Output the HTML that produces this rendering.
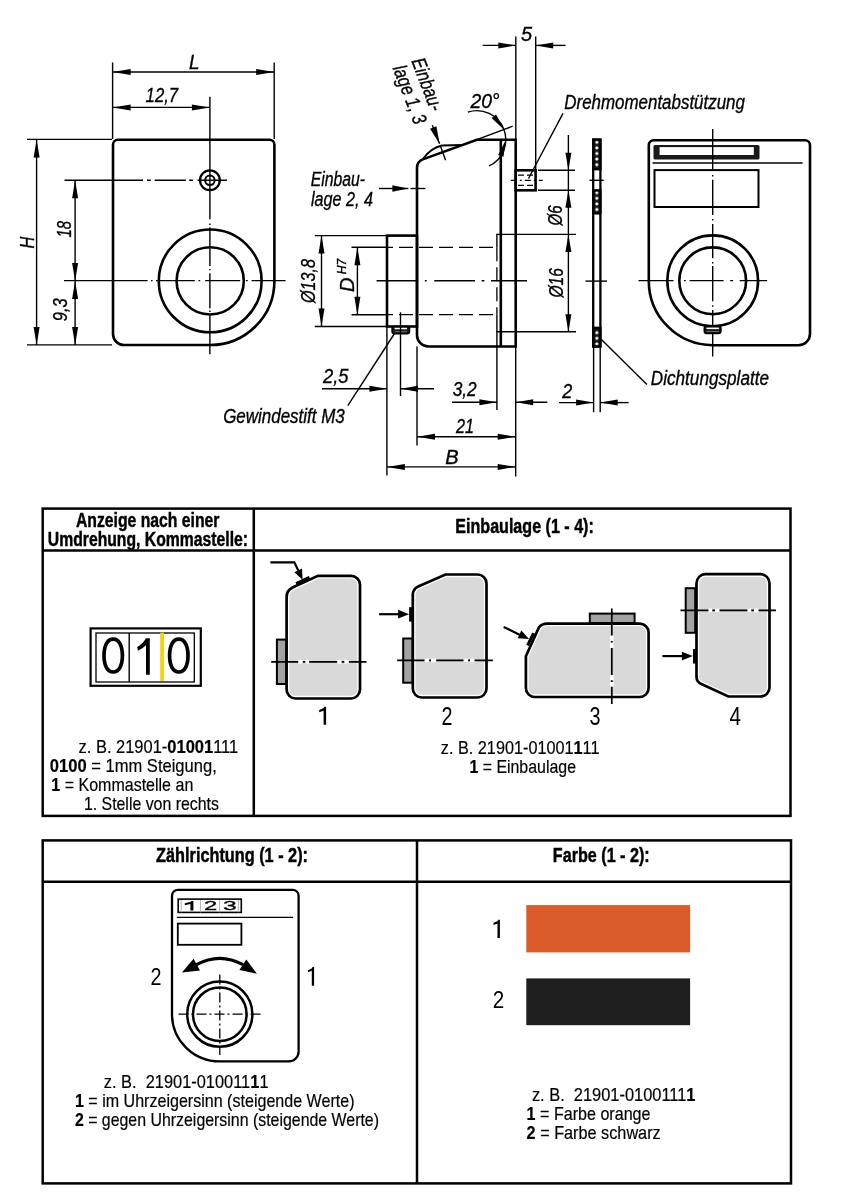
<!DOCTYPE html>
<html><head><meta charset="utf-8"><style>
html,body{margin:0;padding:0;background:#fff;}
svg{display:block;font-family:"Liberation Sans",sans-serif;will-change:transform;}
.k{fill:none;stroke:#000;stroke-width:2.6;}
.k2{fill:none;stroke:#000;stroke-width:2;}
.k3{stroke:#000;stroke-width:2.8;}
.t{stroke:#000;stroke-width:1.4;fill:none;}
.t15{stroke:#000;stroke-width:1.4;fill:none;}
.t2{stroke:#000;stroke-width:2.2;fill:none;}
.c{stroke:#000;stroke-width:1.3;stroke-dasharray:36 4 2 4;}
.c2{stroke:#000;stroke-width:1.3;stroke-dasharray:6 3 2 3;}
.c3{stroke:#000;stroke-width:1.6;stroke-dasharray:26 4 2 4;}
.c4{stroke:#000;stroke-width:1.3;stroke-dasharray:10 3 2 3;}
.h{stroke:#000;stroke-width:1.3;stroke-dasharray:14 6;}
.h2{stroke:#000;stroke-width:1.3;stroke-dasharray:6 3;}
.a{fill:#000;stroke:none;}
.tb{fill:none;stroke:#000;stroke-width:2.5;}
.i{stroke:#000;stroke-width:0.35;}
.b{stroke:#000;stroke-width:0.45;}
.r{stroke:#000;stroke-width:0.2;}
text{-webkit-font-smoothing:antialiased;}
</style></head><body>
<svg width="846" height="1200" viewBox="0 0 846 1200">
<defs>
<pattern id="hatch" width="5.6" height="5.6" patternUnits="userSpaceOnUse" x="594" y="139.5">
<rect width="5.6" height="5.6" fill="#1a1a1a"/><path d="M2.8,0.9 L4.7,2.8 L2.8,4.7 L0.9,2.8 Z" fill="#fff"/>
</pattern>
</defs>
<path d="M113.0,144.8 A5,5 0 0 1 118.0,139.8 L269.4,139.8 A5,5 0 0 1 274.4,144.8 L274.4,280.9 A64.2,64.2 0 0 1 210.2,345.0 L124.0,345.0 A11,11 0 0 1 113.0,334.0 Z" class="k" />
<circle cx="210.2" cy="280.9" r="51.4" class="k"/>
<circle cx="210.2" cy="280.9" r="33.6" class="k"/>
<circle cx="209.9" cy="180.3" r="9.9" fill="none" stroke="#000" stroke-width="2.3"/>
<circle cx="209.9" cy="180.3" r="4.8" fill="none" stroke="#000" stroke-width="2"/>
<path d="M209.9,96.7 V219.3 M209.9,223.6 V225.1 M209.9,227.3 V266 M209.9,268.9 V270.3 M209.9,273.2 V308.2 M209.9,310.6 V312 M209.9,315.5 V354.2" stroke="#000" stroke-width="1.4" fill="none"/>
<path d="M64.5,180.2 H143 M147,180.2 H150.8 M154.7,180.2 H185.9 M189.2,180.2 H193.1 M197.6,180.2 H226.9" stroke="#000" stroke-width="1.4" fill="none"/>
<path d="M64,280.6 H147.6 M151,280.6 H152.6 M156,280.6 H194.8 M198.6,280.6 H200.2 M205.2,280.6 H240.2 M245.9,280.6 H247.7 M251.6,280.6 H285.6" stroke="#000" stroke-width="1.4" fill="none"/>
<line x1="112.6" y1="62.5" x2="112.6" y2="139" class="t" />
<line x1="274.2" y1="62.5" x2="274.2" y2="139" class="t" />
<line x1="112.6" y1="72" x2="274.2" y2="72" class="t" />
<polygon points="112.6,72 130.6,69 130.6,75" class="a"/>
<polygon points="274.2,72 256.2,75 256.2,69" class="a"/>
<line x1="112.6" y1="107.4" x2="209.9" y2="107.4" class="t" />
<polygon points="112.6,107.4 130.6,104.4 130.6,110.4" class="a"/>
<polygon points="209.9,107.4 191.9,110.4 191.9,104.4" class="a"/>
<line x1="27" y1="139.4" x2="112" y2="139.4" class="t" />
<line x1="27" y1="344.9" x2="112" y2="344.9" class="t" />
<line x1="36.6" y1="139.4" x2="36.6" y2="344.9" class="t" />
<polygon points="36.6,139.4 39.6,157.4 33.6,157.4" class="a"/>
<polygon points="36.6,344.9 33.6,326.9 39.6,326.9" class="a"/>
<line x1="75.1" y1="180.2" x2="75.1" y2="280.9" class="t" />
<polygon points="75.1,180.2 78.1,198.2 72.1,198.2" class="a"/>
<polygon points="75.1,280.9 72.1,262.9 78.1,262.9" class="a"/>
<line x1="75.1" y1="280.9" x2="75.1" y2="344.9" class="t" />
<polygon points="75.1,280.9 78.1,298.9 72.1,298.9" class="a"/>
<polygon points="75.1,344.9 72.1,326.9 78.1,326.9" class="a"/>
<text class="i" x="194.3" y="68.8" text-anchor="middle" style="font-size:20px;font-style:italic;font-weight:normal" fill="#000" textLength="10.5" lengthAdjust="spacingAndGlyphs">L</text>
<text class="i" x="145.6" y="102.4" text-anchor="start" style="font-size:20px;font-style:italic;font-weight:normal" fill="#000" textLength="32.6" lengthAdjust="spacingAndGlyphs">12,7</text>
<text class="i" transform="translate(34,242.6) rotate(-90)" x="0" y="0" text-anchor="middle" style="font-size:20px;font-style:italic;font-weight:normal" fill="#000" textLength="11.8" lengthAdjust="spacingAndGlyphs">H</text>
<text class="i" transform="translate(71,229.3) rotate(-90)" x="0" y="0" text-anchor="middle" style="font-size:20px;font-style:italic;font-weight:normal" fill="#000" textLength="16.5" lengthAdjust="spacingAndGlyphs">18</text>
<text class="i" transform="translate(67,309.8) rotate(-90)" x="0" y="0" text-anchor="middle" style="font-size:20px;font-style:italic;font-weight:normal" fill="#000" textLength="23" lengthAdjust="spacingAndGlyphs">9,3</text>
<path d="M417.0,335.0 L417.0,168 Q417.0,161.5 422.8,159.4 L476.8,139.7 L515.7,139.7 L515.7,346.5 L428.5,346.5 A11.5,11.5 0 0 1 417.0,335.0 Z" class="k" />
<line x1="500.8" y1="139.7" x2="500.8" y2="346.5" class="k" />
<line x1="496.9" y1="233.8" x2="496.9" y2="247.3" class="t" />
<line x1="496.9" y1="247.3" x2="496.9" y2="314.7" class="h" />
<line x1="496.9" y1="314.7" x2="496.9" y2="410" class="t" />
<rect x="387" y="235.6" width="30" height="90.9" class="k"/>
<rect x="392.1" y="326.5" width="17.4" height="7.2" rx="2.5" fill="#1a1a1a" stroke="#000" stroke-width="1.6"/>
<rect x="394.6" y="327.8" width="12.4" height="1.5" fill="#fff"/>
<rect x="394.6" y="331.2" width="12.4" height="0.9" fill="#777"/>
<line x1="351.5" y1="247.3" x2="387" y2="247.3" class="t" />
<line x1="387" y1="247.3" x2="496.9" y2="247.3" class="h"  stroke-dasharray="14.5 6" stroke-dashoffset="8"/>
<line x1="351.5" y1="314.7" x2="387" y2="314.7" class="t" />
<line x1="387" y1="314.7" x2="496.9" y2="314.7" class="h"  stroke-dasharray="14.5 6" stroke-dashoffset="8"/>
<path d="M376.6,280.8 H418.2 M424.8,280.8 H426.7 M434.3,280.8 H475 M481.6,280.8 H484.4 M491,280.8 H527" stroke="#000" stroke-width="1.4" fill="none"/>
<line x1="585.5" y1="281.1" x2="607" y2="281.1" class="t" />
<line x1="496.9" y1="234.4" x2="576" y2="234.4" class="t" />
<line x1="496.9" y1="331.8" x2="576" y2="331.8" class="t" />
<rect x="515.7" y="170.3" width="19.9" height="20" class="k"/>
<line x1="518" y1="175.2" x2="534" y2="175.2" class="h2" />
<line x1="518" y1="185.3" x2="534" y2="185.3" class="h2" />
<line x1="510.8" y1="180.3" x2="542.7" y2="180.3" class="c2" />
<rect x="593.2" y="139.6" width="7.2" height="206.9" fill="none" stroke="#000" stroke-width="2.3"/>
<rect x="593.2" y="139.6" width="7.2" height="29.599999999999994" fill="url(#hatch)" stroke="#000" stroke-width="2.3"/>
<rect x="593.2" y="190.3" width="7.2" height="23.099999999999994" fill="url(#hatch)" stroke="#000" stroke-width="2.3"/>
<rect x="593.2" y="327.8" width="7.2" height="18.69999999999999" fill="url(#hatch)" stroke="#000" stroke-width="2.3"/>
<line x1="589.5" y1="180.3" x2="603.7" y2="180.3" class="t" />
<line x1="593.6" y1="346.6" x2="593.6" y2="412.3" class="t" />
<line x1="600.2" y1="346.6" x2="600.2" y2="412.3" class="t" />
<line x1="476.8" y1="139.7" x2="512.6" y2="126.2" class="t" />
<path d="M467.84,112.12 A29,29 0 0 1 489.06,165.98" class="t" fill="none"/>
<polygon points="504.02,129.69 491.61,117.93 496.08,114.55" class="a"/>
<polygon points="505.8,139.7 503.52,156.74 498.16,155.1" class="a"/>
<path d="M423.2,158.8 Q431,148 442,145.6 L462,145.1" class="k2"  fill="none"/>
<line x1="440.2" y1="145.3" x2="445.6" y2="160.3" class="t" />
<line x1="432.3" y1="125.2" x2="439.6" y2="143.8" class="t" />
<polygon points="439.6,143.8 430.04,128.75 436.37,126.27" class="a"/>
<line x1="379" y1="188.5" x2="408.4" y2="188.5" class="t" />
<polygon points="408.4,188.5 392.4,191.7 392.4,185.3" class="a"/>
<line x1="410.4" y1="188.5" x2="425.4" y2="188.5" class="t" />
<line x1="515.8" y1="36.5" x2="515.8" y2="139.7" class="t" />
<line x1="535.7" y1="36.5" x2="535.7" y2="170.3" class="t" />
<line x1="482.7" y1="45.4" x2="515.8" y2="45.4" class="t" />
<polygon points="515.8,45.4 498.3,48.4 498.3,42.4" class="a"/>
<line x1="535.7" y1="45.4" x2="565.5" y2="45.4" class="t" />
<polygon points="535.7,45.4 553.2,42.4 553.2,48.4" class="a"/>
<text class="i" x="526.5" y="40.8" text-anchor="middle" style="font-size:20px;font-style:italic;font-weight:normal" fill="#000">5</text>
<line x1="528.5" y1="178.5" x2="563" y2="113.4" class="t" />
<text class="i" x="564.3" y="109.4" text-anchor="start" style="font-size:20px;font-style:italic;font-weight:normal" fill="#000" textLength="180.6" lengthAdjust="spacingAndGlyphs">Drehmomentabstützung</text>
<line x1="538" y1="170.3" x2="575" y2="170.3" class="t" />
<line x1="538" y1="190.3" x2="575" y2="190.3" class="t" />
<line x1="568.4" y1="135" x2="568.4" y2="331.8" class="t" />
<polygon points="568.4,170.3 565.4,152.8 571.4,152.8" class="a"/>
<polygon points="568.4,190.3 571.4,207.8 565.4,207.8" class="a"/>
<polygon points="568.4,234.4 571.4,251.9 565.4,251.9" class="a"/>
<polygon points="568.4,331.8 565.4,314.3 571.4,314.3" class="a"/>
<text class="i" transform="translate(561.5,215.5) rotate(-90)" x="0" y="0" text-anchor="middle" style="font-size:20px;font-style:italic;font-weight:normal" fill="#000" textLength="20" lengthAdjust="spacingAndGlyphs">Ø6</text>
<text class="i" transform="translate(562.5,282.8) rotate(-90)" x="0" y="0" text-anchor="middle" style="font-size:20px;font-style:italic;font-weight:normal" fill="#000" textLength="29.5" lengthAdjust="spacingAndGlyphs">Ø16</text>
<line x1="314.8" y1="235.6" x2="386" y2="235.6" class="t" />
<line x1="314.8" y1="326.5" x2="386" y2="326.5" class="t" />
<line x1="321.5" y1="235.6" x2="321.5" y2="326.5" class="t" />
<polygon points="321.5,235.6 324.5,253.6 318.5,253.6" class="a"/>
<polygon points="321.5,326.5 318.5,308.5 324.5,308.5" class="a"/>
<text class="i" transform="translate(315,281) rotate(-90)" x="0" y="0" text-anchor="middle" style="font-size:20px;font-style:italic;font-weight:normal" fill="#000" textLength="44" lengthAdjust="spacingAndGlyphs">Ø13,8</text>
<line x1="357.4" y1="247.3" x2="357.4" y2="314.7" class="t" />
<polygon points="357.4,247.3 360.4,265.3 354.4,265.3" class="a"/>
<polygon points="357.4,314.7 354.4,296.7 360.4,296.7" class="a"/>
<text class="i" transform="translate(353.5,275.5) rotate(-90)" text-anchor="middle" style="font-size:20px;font-style:italic">D<tspan style="font-size:12px" dy="-8"> H7</tspan></text>
<line x1="386.9" y1="326.5" x2="386.9" y2="475.4" class="t" />
<line x1="400.5" y1="312.3" x2="400.5" y2="396" class="t" />
<line x1="322" y1="388.8" x2="386.9" y2="388.8" class="t" />
<polygon points="386.9,388.8 369.4,391.8 369.4,385.8" class="a"/>
<line x1="400.5" y1="388.8" x2="434" y2="388.8" class="t" />
<polygon points="400.5,388.8 418,385.8 418,391.8" class="a"/>
<text class="i" x="323" y="383.2" text-anchor="start" style="font-size:20px;font-style:italic;font-weight:normal" fill="#000" textLength="25.5" lengthAdjust="spacingAndGlyphs">2,5</text>
<line x1="394.5" y1="333.5" x2="347.8" y2="405.6" class="t" />
<text class="i" x="223.2" y="423.4" text-anchor="start" style="font-size:20px;font-style:italic;font-weight:normal" fill="#000" textLength="121.5" lengthAdjust="spacingAndGlyphs">Gewindestift M3</text>
<line x1="417" y1="346.5" x2="417" y2="445.6" class="t" />
<line x1="515.7" y1="346.5" x2="515.7" y2="476.6" class="t" />
<line x1="452" y1="402.3" x2="496.9" y2="402.3" class="t" />
<polygon points="496.9,402.3 479.4,405.3 479.4,399.3" class="a"/>
<line x1="515.7" y1="402.3" x2="547.3" y2="402.3" class="t" />
<polygon points="515.7,402.3 533.2,399.3 533.2,405.3" class="a"/>
<text class="i" x="452.7" y="396.2" text-anchor="start" style="font-size:20px;font-style:italic;font-weight:normal" fill="#000" textLength="24" lengthAdjust="spacingAndGlyphs">3,2</text>
<line x1="417" y1="436.8" x2="515.7" y2="436.8" class="t" />
<polygon points="417,436.8 435,433.8 435,439.8" class="a"/>
<polygon points="515.7,436.8 497.7,439.8 497.7,433.8" class="a"/>
<text class="i" x="465" y="432.5" text-anchor="middle" style="font-size:20px;font-style:italic;font-weight:normal" fill="#000" textLength="18" lengthAdjust="spacingAndGlyphs">21</text>
<line x1="386.9" y1="466.9" x2="515.7" y2="466.9" class="t" />
<polygon points="386.9,466.9 404.9,463.9 404.9,469.9" class="a"/>
<polygon points="515.7,466.9 497.7,469.9 497.7,463.9" class="a"/>
<text class="i" x="452" y="464.2" text-anchor="middle" style="font-size:20px;font-style:italic;font-weight:normal" fill="#000">B</text>
<line x1="559" y1="402.6" x2="593.6" y2="402.6" class="t" />
<polygon points="593.6,402.6 576.1,405.6 576.1,399.6" class="a"/>
<line x1="600.2" y1="402.6" x2="628.6" y2="402.6" class="t" />
<polygon points="600.2,402.6 617.7,399.6 617.7,405.6" class="a"/>
<text class="i" x="562.2" y="398.1" text-anchor="start" style="font-size:20px;font-style:italic;font-weight:normal" fill="#000" textLength="10" lengthAdjust="spacingAndGlyphs">2</text>
<line x1="601.4" y1="339.6" x2="646.9" y2="384.5" class="t" />
<text class="i" x="650.8" y="384.8" text-anchor="start" style="font-size:20px;font-style:italic;font-weight:normal" fill="#000" textLength="118.2" lengthAdjust="spacingAndGlyphs">Dichtungsplatte</text>
<text class="i" x="310.7" y="185.5" text-anchor="start" style="font-size:20px;font-style:italic;font-weight:normal" fill="#000" textLength="54.3" lengthAdjust="spacingAndGlyphs">Einbau-</text>
<text class="i" x="311" y="205.6" text-anchor="start" style="font-size:20px;font-style:italic;font-weight:normal" fill="#000" textLength="62" lengthAdjust="spacingAndGlyphs">lage 2, 4</text>
<g class="i" transform="translate(411.2,61) rotate(69)"><text x="0" y="0" style="font-size:20px;font-style:italic" textLength="55" lengthAdjust="spacingAndGlyphs">Einbau-</text><text x="0" y="20" style="font-size:20px;font-style:italic" textLength="61.5" lengthAdjust="spacingAndGlyphs">lage 1, 3</text></g>
<text class="i" x="470.4" y="108.4" text-anchor="start" style="font-size:20px;font-style:italic;font-weight:normal" fill="#000" textLength="29.2" lengthAdjust="spacingAndGlyphs">20°</text>
<path d="M648.8,280.8 L648.8,145.2 A5,5 0 0 1 653.8,140.2 L805.0,140.2 A5,5 0 0 1 810.0,145.2 L810.0,333.7 A11.5,11.5 0 0 1 798.5,345.2 L712.7,345.2 A64.3,64.3 0 0 1 648.8,280.8 Z" class="k" />
<rect x="653.5" y="145" width="106" height="14.6" rx="1.5" fill="#1a1a1a"/>
<rect x="659.6" y="147.1" width="94.2" height="7.9" fill="#fff"/>
<line x1="652.5" y1="163" x2="802.6" y2="163" class="t15" />
<rect x="654.5" y="170.1" width="104" height="36.9" class="k2"/>
<circle cx="712.7" cy="280.8" r="45.4" class="k"/>
<circle cx="712.7" cy="280.8" r="33.4" class="k"/>
<path d="M712.7,128.9 V170 M712.7,175 V176.4 M712.7,179.8 V215 M712.7,219 V220.6 M712.7,223.9 V258.2 M712.7,262 V263.5 M712.7,266 V301.3 M712.7,305.3 V306.8 M712.7,310 V356.4" stroke="#000" stroke-width="1.4" fill="none"/>
<path d="M638.5,280.6 H673.5 M683.9,280.6 H685.8 M689.6,280.6 H723.6 M730.2,280.6 H733.1 M739.7,280.6 H767.1" stroke="#000" stroke-width="1.4" fill="none"/>
<rect x="704.3" y="326" width="16.6" height="7.4" rx="2.5" fill="#1a1a1a" stroke="#000" stroke-width="1.6"/>
<rect x="706.5" y="327.6" width="12.4" height="1.5" fill="#fff"/>
<rect x="706.5" y="331" width="12.4" height="0.9" fill="#777"/>
<rect x="42.7" y="508.6" width="747.8" height="307.3" class="tb"/>
<line x1="42.7" y1="550.5" x2="790.5" y2="550.5" class="tb" />
<line x1="253.8" y1="508.6" x2="253.8" y2="815.9" class="tb" />
<text class="b" x="75.9" y="526.6" text-anchor="start" style="font-size:20px;font-style:normal;font-weight:bold" fill="#000" textLength="143.6" lengthAdjust="spacingAndGlyphs">Anzeige nach einer</text>
<text class="b" x="47.8" y="545.9" text-anchor="start" style="font-size:20px;font-style:normal;font-weight:bold" fill="#000" textLength="200.2" lengthAdjust="spacingAndGlyphs">Umdrehung, Kommastelle:</text>
<text class="b" x="455.3" y="533.4" text-anchor="start" style="font-size:19.6px;font-style:normal;font-weight:bold" fill="#000" textLength="138.5" lengthAdjust="spacingAndGlyphs">Einbaulage (1 - 4):</text>
<rect x="90.6" y="628.4" width="110.2" height="57.4" fill="none" stroke="#000" stroke-width="2.2"/>
<rect x="96" y="633" width="98.3" height="49" fill="none" stroke="#000" stroke-width="1.3"/>
<line x1="129.2" y1="633" x2="129.2" y2="682" class="t" />
<rect x="160.2" y="632.6" width="3.8" height="48.4" fill="#F4D312"/>
<path d="M104,655.6 C104,645.43 107.5,639.2 113.2,639.2 C118.9,639.2 122.4,645.43 122.4,655.6 C122.4,665.77 118.9,672 113.2,672 C107.5,672 104,665.77 104,655.6 Z" fill="none" stroke="#000" stroke-width="3.7"/>
<path d="M169.6,655.6 C169.6,645.43 173.1,639.2 178.8,639.2 C184.5,639.2 188,645.43 188,655.6 C188,665.77 184.5,672 178.8,672 C173.1,672 169.6,665.77 169.6,655.6 Z" fill="none" stroke="#000" stroke-width="3.7"/>
<path d="M146,638.3 L149.8,638.3 L149.8,674.7 L146,674.7 L146,645.2 Q142.5,648.6 137.9,650.8 L137.2,647 Q142.8,644 146,638.3 Z" fill="#000"/>
<text class="r" x="78.5" y="753" style="font-size:18.5px" textLength="159.7" lengthAdjust="spacingAndGlyphs">z. B. 21901-<tspan font-weight="bold">01001</tspan>111</text>
<text class="r" x="49.8" y="771.8" style="font-size:18.5px" textLength="167" lengthAdjust="spacingAndGlyphs"><tspan font-weight="bold">0100</tspan> = 1mm Steigung,</text>
<text class="r" x="51.3" y="790.9" style="font-size:18.5px" textLength="142" lengthAdjust="spacingAndGlyphs"><tspan font-weight="bold">1</tspan> = Kommastelle an</text>
<text class="r" x="83.9" y="810.1" style="font-size:18.5px" textLength="135" lengthAdjust="spacingAndGlyphs">1. Stelle von rechts</text>
<text class="r" x="440.8" y="753.9" style="font-size:18.5px" textLength="158.7" lengthAdjust="spacingAndGlyphs">z. B. 21901-01001<tspan font-weight="bold">1</tspan>11</text>
<text class="r" x="469.4" y="772.9" style="font-size:18.5px" textLength="106.6" lengthAdjust="spacingAndGlyphs"><tspan font-weight="bold">1</tspan> = Einbaulage</text>
<rect x="276.9" y="639.6" width="9.5" height="44.4" fill="#a3a3a3" stroke="#000" stroke-width="2"/>
<clipPath id="sb1"><path d="M286.6,689.5 L286.6,597 Q286.6,590.5 292.5,587.5 L318,575.8 L351,575.8 A9,9 0 0 1 360,584.8 L360,689.5 A9,9 0 0 1 351,698.5 L295.6,698.5 A9,9 0 0 1 286.6,689.5 Z"/></clipPath>
<path d="M286.6,689.5 L286.6,597 Q286.6,590.5 292.5,587.5 L318,575.8 L351,575.8 A9,9 0 0 1 360,584.8 L360,689.5 A9,9 0 0 1 351,698.5 L295.6,698.5 A9,9 0 0 1 286.6,689.5 Z" fill="#d9d9d9" stroke="#fff" stroke-width="5.4" clip-path="url(#sb1)"/>
<path d="M286.6,689.5 L286.6,597 Q286.6,590.5 292.5,587.5 L318,575.8 L351,575.8 A9,9 0 0 1 360,584.8 L360,689.5 A9,9 0 0 1 351,698.5 L295.6,698.5 A9,9 0 0 1 286.6,689.5 Z" fill="none" stroke="#000" stroke-width="2.7"/>
<line x1="298.2" y1="661.8" x2="302.7" y2="661.8" stroke="#fff" stroke-width="3.6"/>
<line x1="305.3" y1="661.8" x2="309.2" y2="661.8" stroke="#fff" stroke-width="3.6"/>
<line x1="337.2" y1="661.8" x2="341.7" y2="661.8" stroke="#fff" stroke-width="3.6"/>
<line x1="344.3" y1="661.8" x2="348.9" y2="661.8" stroke="#fff" stroke-width="3.6"/>
<path d="M271.2,661.8 H298.2 M302.7,661.8 H305.3 M309.2,661.8 H337.2 M341.7,661.8 H344.3 M348.9,661.8 H366.4" stroke="#000" stroke-width="1.7" fill="none"/>
<line x1="296" y1="583.5" x2="309.5" y2="577.4" class=""  stroke="#000" stroke-width="3"/>
<path d="M270.4,562.4 L294.4,562.4 L298.3,570.6" class="t2"  fill="none"/>
<polygon points="302.6,579.8 294.23,572.13 302.01,568.47" class="a"/>
<polygon points="326.1,706.7 326.1,724.7 323.6,724.7 323.6,710.66 319.2,712.2 319.2,710 323.4,708.24 324.48,706.7" fill="#000"/>
<rect x="403.2" y="638.5" width="9.5" height="44.2" fill="#a3a3a3" stroke="#000" stroke-width="2"/>
<clipPath id="sb2"><path d="M412.8,688.5 L412.8,595 Q412.8,589 418.2,586.5 L445.5,574.5 L477.5,574.5 A9,9 0 0 1 486.5,583.5 L486.5,688.5 A9,9 0 0 1 477.5,697.5 L421.8,697.5 A9,9 0 0 1 412.8,688.5 Z"/></clipPath>
<path d="M412.8,688.5 L412.8,595 Q412.8,589 418.2,586.5 L445.5,574.5 L477.5,574.5 A9,9 0 0 1 486.5,583.5 L486.5,688.5 A9,9 0 0 1 477.5,697.5 L421.8,697.5 A9,9 0 0 1 412.8,688.5 Z" fill="#d9d9d9" stroke="#fff" stroke-width="5.4" clip-path="url(#sb2)"/>
<path d="M412.8,688.5 L412.8,595 Q412.8,589 418.2,586.5 L445.5,574.5 L477.5,574.5 A9,9 0 0 1 486.5,583.5 L486.5,688.5 A9,9 0 0 1 477.5,697.5 L421.8,697.5 A9,9 0 0 1 412.8,688.5 Z" fill="none" stroke="#000" stroke-width="2.7"/>
<line x1="424.5" y1="660.4" x2="429.1" y2="660.4" stroke="#fff" stroke-width="3.6"/>
<line x1="431" y1="660.4" x2="436.2" y2="660.4" stroke="#fff" stroke-width="3.6"/>
<line x1="463.5" y1="660.4" x2="468.1" y2="660.4" stroke="#fff" stroke-width="3.6"/>
<line x1="470" y1="660.4" x2="474.6" y2="660.4" stroke="#fff" stroke-width="3.6"/>
<path d="M397.2,660.4 H424.5 M429.1,660.4 H431 M436.2,660.4 H463.5 M468.1,660.4 H470 M474.6,660.4 H492.8" stroke="#000" stroke-width="1.7" fill="none"/>
<rect x="409.1" y="607.2" width="4" height="14.4" fill="#000"/>
<line x1="379.1" y1="614.2" x2="400" y2="614.2" class="t2" />
<polygon points="409.1,614.2 398.1,618.55 398.1,609.85" class="a"/>
<text class="n" x="446.9" y="724.6" text-anchor="middle" style="font-size:25px;font-style:normal;font-weight:normal" fill="#000" textLength="11" lengthAdjust="spacingAndGlyphs">2</text>
<rect x="589.8" y="613.6" width="44.8" height="9.5" fill="#a3a3a3" stroke="#000" stroke-width="2"/>
<clipPath id="sb3"><path d="M525.9,656.3 L525.9,688 A9,9 0 0 0 534.9,697 L639.6,697 A9,9 0 0 0 648.6,688 L648.6,632.6 A9,9 0 0 0 639.6,623.6 L547.2,623.6 Q541.5,623.6 538.9,627.5 Z"/></clipPath>
<path d="M525.9,656.3 L525.9,688 A9,9 0 0 0 534.9,697 L639.6,697 A9,9 0 0 0 648.6,688 L648.6,632.6 A9,9 0 0 0 639.6,623.6 L547.2,623.6 Q541.5,623.6 538.9,627.5 Z" fill="#d9d9d9" stroke="#fff" stroke-width="5.4" clip-path="url(#sb3)"/>
<path d="M525.9,656.3 L525.9,688 A9,9 0 0 0 534.9,697 L639.6,697 A9,9 0 0 0 648.6,688 L648.6,632.6 A9,9 0 0 0 639.6,623.6 L547.2,623.6 Q541.5,623.6 538.9,627.5 Z" fill="none" stroke="#000" stroke-width="2.7"/>
<line x1="611.8" y1="635.6" x2="611.8" y2="640.9" stroke="#fff" stroke-width="3.6"/>
<line x1="611.8" y1="642.6" x2="611.8" y2="647.9" stroke="#fff" stroke-width="3.6"/>
<line x1="611.8" y1="675" x2="611.8" y2="680.2" stroke="#fff" stroke-width="3.6"/>
<line x1="611.8" y1="682" x2="611.8" y2="686.8" stroke="#fff" stroke-width="3.6"/>
<path d="M611.8,608.5 V635.6 M611.8,640.9 V642.6 M611.8,647.9 V675 M611.8,680.2 V682 M611.8,686.8 V703.9" stroke="#000" stroke-width="1.7" fill="none"/>
<line x1="527.6" y1="645.5" x2="533.6" y2="633.2" class=""  stroke="#000" stroke-width="3"/>
<line x1="503.7" y1="626.9" x2="520" y2="635" class="t2" />
<polygon points="529,638.9 517.67,638.29 521.36,630.52" class="a"/>
<text class="n" x="594.9" y="724.5" text-anchor="middle" style="font-size:25px;font-style:normal;font-weight:normal" fill="#000" textLength="11" lengthAdjust="spacingAndGlyphs">3</text>
<rect x="685.7" y="588.2" width="9.5" height="44.6" fill="#a3a3a3" stroke="#000" stroke-width="2"/>
<clipPath id="sb4"><path d="M696.5,583.2 L696.5,676.8 Q696.5,682 701.8,684.3 L728.4,696.5 L760.5,696.5 A9,9 0 0 0 769.5,687.5 L769.5,583.2 A9,9 0 0 0 760.5,574.2 L705.5,574.2 A9,9 0 0 0 696.5,583.2 Z"/></clipPath>
<path d="M696.5,583.2 L696.5,676.8 Q696.5,682 701.8,684.3 L728.4,696.5 L760.5,696.5 A9,9 0 0 0 769.5,687.5 L769.5,583.2 A9,9 0 0 0 760.5,574.2 L705.5,574.2 A9,9 0 0 0 696.5,583.2 Z" fill="#d9d9d9" stroke="#fff" stroke-width="5.4" clip-path="url(#sb4)"/>
<path d="M696.5,583.2 L696.5,676.8 Q696.5,682 701.8,684.3 L728.4,696.5 L760.5,696.5 A9,9 0 0 0 769.5,687.5 L769.5,583.2 A9,9 0 0 0 760.5,574.2 L705.5,574.2 A9,9 0 0 0 696.5,583.2 Z" fill="none" stroke="#000" stroke-width="2.7"/>
<line x1="708.4" y1="610.4" x2="712.3" y2="610.4" stroke="#fff" stroke-width="3.6"/>
<line x1="714.9" y1="610.4" x2="719.5" y2="610.4" stroke="#fff" stroke-width="3.6"/>
<line x1="747.4" y1="610.4" x2="751.3" y2="610.4" stroke="#fff" stroke-width="3.6"/>
<line x1="753.9" y1="610.4" x2="758.5" y2="610.4" stroke="#fff" stroke-width="3.6"/>
<path d="M680.5,610.4 H708.4 M712.3,610.4 H714.9 M719.5,610.4 H747.4 M751.3,610.4 H753.9 M758.5,610.4 H776" stroke="#000" stroke-width="1.7" fill="none"/>
<rect x="693" y="649.1" width="3.8" height="14.4" fill="#000"/>
<line x1="662.4" y1="656.1" x2="684" y2="656.1" class="t2" />
<polygon points="692.8,656.1 681.8,660.5 681.8,651.7" class="a"/>
<text class="n" x="735.3" y="724.5" text-anchor="middle" style="font-size:25px;font-style:normal;font-weight:normal" fill="#000" textLength="11.5" lengthAdjust="spacingAndGlyphs">4</text>
<rect x="42.7" y="840.4" width="748.3" height="343" class="tb"/>
<line x1="42.7" y1="881.8" x2="791" y2="881.8" class="tb" />
<line x1="417" y1="840.4" x2="417" y2="1183.4" class="tb" />
<text class="b" x="156.1" y="861.5" text-anchor="start" style="font-size:19.6px;font-style:normal;font-weight:bold" fill="#000" textLength="151.9" lengthAdjust="spacingAndGlyphs">Zählrichtung (1 - 2):</text>
<text class="b" x="552.8" y="861.5" text-anchor="start" style="font-size:19.6px;font-style:normal;font-weight:bold" fill="#000" textLength="96.9" lengthAdjust="spacingAndGlyphs">Farbe (1 - 2):</text>
<path d="M172,1014.2 L172,895.8 A6,6 0 0 1 178,889.8 L292.6,889.8 A6,6 0 0 1 298.6,895.8 L298.6,1051.6 A9.8,9.8 0 0 1 288.8,1061.4 L219.8,1061.4 A47.8,47.2 0 0 1 172,1014.2 Z" class=""  fill="none" stroke="#000" stroke-width="2.3"/>
<rect x="178.2" y="899.1" width="63.1" height="13.3" fill="#fff" stroke="#000" stroke-width="1.6"/>
<line x1="181.2" y1="900" x2="181.2" y2="912.4" class=""  stroke="#aaa" stroke-width="0.9"/>
<line x1="200.4" y1="900" x2="200.4" y2="912.4" class=""  stroke="#aaa" stroke-width="0.9"/>
<line x1="219.6" y1="900" x2="219.6" y2="912.4" class=""  stroke="#aaa" stroke-width="0.9"/>
<line x1="238.3" y1="900" x2="238.3" y2="912.4" class=""  stroke="#aaa" stroke-width="0.9"/>
<polygon points="193.4,900.9 193.4,910.4 190.4,910.4 190.4,904 184.8,905.25 184.8,903.15 190.2,902.05 191.45,900.9" fill="#000"/>
<text x="203.9" y="910.4" style="font-size:13.5px" stroke="#000" stroke-width="0.35" textLength="13.2" lengthAdjust="spacingAndGlyphs">2</text>
<text x="223" y="910.4" style="font-size:13.5px" stroke="#000" stroke-width="0.35" textLength="13.7" lengthAdjust="spacingAndGlyphs">3</text>
<line x1="176.8" y1="917.4" x2="293.1" y2="917.4" class="t15" />
<rect x="177.8" y="923.6" width="63.6" height="21.2" fill="none" stroke="#000" stroke-width="1.8"/>
<path d="M196.3,964.7 Q219.7,951.9 243.1,964.7" class=""  fill="none" stroke="#000" stroke-width="3.2"/>
<polygon points="181.9,972.4 193.6,958.8 200,970.5" fill="#000"/>
<polygon points="256.9,973.7 246.3,959.4 239.4,970" fill="#000"/>
<circle cx="219.8" cy="1014.2" r="32.6" fill="none" stroke="#000" stroke-width="2.5"/>
<circle cx="219.8" cy="1014.2" r="26.8" fill="none" stroke="#000" stroke-width="2.5"/>
<line x1="178.5" y1="1014.2" x2="261.2" y2="1014.2" class="c4" />
<line x1="219.8" y1="974.6" x2="219.8" y2="1055" class="c4" />
<text class="n" x="156" y="985.2" text-anchor="middle" style="font-size:24px;font-style:normal;font-weight:normal" fill="#000" textLength="11" lengthAdjust="spacingAndGlyphs">2</text>
<polygon points="314.1,967 314.1,985.7 311.8,985.7 311.8,970.83 307.9,972.3 307.9,970.3 311.6,968.5 312.61,967" fill="#000"/>
<text class="r" x="103.8" y="1088" style="font-size:18.5px;white-space:pre" textLength="164.7" lengthAdjust="spacingAndGlyphs">z. B.  21901-010011<tspan font-weight="bold">1</tspan>1</text>
<text class="r" x="74.9" y="1107.2" style="font-size:18.5px" textLength="279.6" lengthAdjust="spacingAndGlyphs"><tspan font-weight="bold">1</tspan> = im Uhrzeigersinn (steigende Werte)</text>
<text class="r" x="74.9" y="1126.4" style="font-size:18.5px" textLength="304.1" lengthAdjust="spacingAndGlyphs"><tspan font-weight="bold">2</tspan> = gegen Uhrzeigersinn (steigende Werte)</text>
<rect x="526.3" y="905.1" width="163.8" height="47.3" fill="#DA5B29"/>
<rect x="526.3" y="978.4" width="163.8" height="46.8" fill="#1E1E1E"/>
<polygon points="499.9,919.7 499.9,938.1 497.5,938.1 497.5,923.44 493.5,924.9 493.5,922.7 497.3,921.13 498.34,919.7" fill="#000"/>
<text class="n" x="498.4" y="1007.8" text-anchor="middle" style="font-size:24px;font-style:normal;font-weight:normal" fill="#000" textLength="11.5" lengthAdjust="spacingAndGlyphs">2</text>
<text class="r" x="531.9" y="1100.7" style="font-size:18.5px;white-space:pre" textLength="163.6" lengthAdjust="spacingAndGlyphs">z. B.  21901-0100111<tspan font-weight="bold">1</tspan></text>
<text class="r" x="526.6" y="1119.9" style="font-size:18.5px" textLength="123.9" lengthAdjust="spacingAndGlyphs"><tspan font-weight="bold">1</tspan> = Farbe orange</text>
<text class="r" x="526.6" y="1138.7" style="font-size:18.5px" textLength="134.1" lengthAdjust="spacingAndGlyphs"><tspan font-weight="bold">2</tspan> = Farbe schwarz</text>
</svg>
</body></html>
